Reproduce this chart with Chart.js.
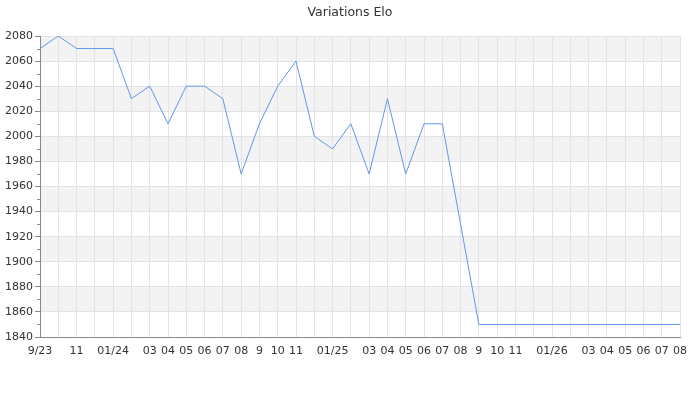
<!DOCTYPE html>
<html>
<head>
<meta charset="utf-8">
<script src="https://cdn.jsdelivr.net/npm/chart.js@4"></script>
<style>
html,body{margin:0;padding:0;background:#fff;}
#wrap{width:700px;height:400px;}
</style>
</head>
<body>
<div id="wrap"><canvas id="c" width="700" height="400"></canvas></div>
<script>
const months = ['2023-09','2023-10','2023-11','2023-12','2024-01','2024-02','2024-03','2024-04','2024-05','2024-06','2024-07','2024-08',
  '2024-09','2024-10','2024-11','2024-12','2025-01','2025-02','2025-03','2025-04','2025-05','2025-06','2025-07','2025-08',
  '2025-09','2025-10','2025-11','2025-12','2026-01','2026-02','2026-03','2026-04','2026-05','2026-06','2026-07','2026-08'];
const tickLabels = ['9/23','','11','','01/24','','03','04','05','06','07','08',
  '9','10','11','','01/25','','03','04','05','06','07','08',
  '9','10','11','','01/26','','03','04','05','06','07','08'];
const elo = [2070,2080,2070,2070,2070,2030,2040,2010,2040,2040,2030,1970,
  2010,2040,2060,2000,1990,2010,1970,2030,1970,2010,2010,1930,
  1850,1850,1850,1850,1850,1850,1850,1850,1850,1850,1850,1850];
const yMin = 1840, yMax = 2080, yStep = 20, yMinor = 10;

const bandsPlugin = {
  id: 'bands',
  beforeDraw(chart) {
    const {ctx, chartArea, scales} = chart;
    const y = scales.y;
    ctx.save();
    ctx.fillStyle = '#f3f3f3';
    let i = 0;
    for (let v = yMax; v > yMin; v -= yStep, i++) {
      if (i % 2 === 0) {
        const top = y.getPixelForValue(v), bot = y.getPixelForValue(v - yStep);
        ctx.fillRect(chartArea.left, top, chartArea.right - chartArea.left, bot - top);
      }
    }
    ctx.restore();
  },
  afterDraw(chart) {
    const {ctx, chartArea, scales} = chart;
    const y = scales.y;
    ctx.save();
    ctx.strokeStyle = '#888';
    ctx.lineWidth = 1;
    ctx.beginPath();
    for (let v = yMin + yMinor; v < yMax; v += yStep) {
      const p = Math.round(y.getPixelForValue(v)) + 0.5;
      ctx.moveTo(chartArea.left - 3, p);
      ctx.lineTo(chartArea.left, p);
    }
    ctx.stroke();
    ctx.restore();
  }
};

new Chart(document.getElementById('c'), {
  type: 'line',
  data: {
    labels: months,
    datasets: [{
      data: elo,
      borderColor: '#6495ed',
      borderWidth: 1,
      pointRadius: 0,
      tension: 0,
      fill: false
    }]
  },
  options: {
    responsive: false,
    animation: false,
    devicePixelRatio: 1,
    layout: {padding: 0},
    plugins: {
      legend: {display: false},
      tooltip: {enabled: false},
      title: {
        display: true,
        text: 'Variations Elo',
        color: '#333',
        font: {family: 'DejaVu Sans', size: 12.5, weight: 'normal'},
        padding: {top: 5, bottom: 16}
      }
    },
    scales: {
      x: {
        type: 'category',
        offset: false,
        afterFit(s) { s.height = 63; },
        grid: {color: '#e3e3e3', drawTicks: false},
        border: {color: '#888'},
        ticks: {
          autoSkip: false, maxRotation: 0, minRotation: 0, padding: 8,
          color: '#333', font: {family: 'DejaVu Sans', size: 11},
          callback: (v, i) => tickLabels[i]
        }
      },
      y: {
        min: yMin, max: yMax,
        afterFit(s) { s.width = 40; },
        grid: {color: '#e3e3e3', tickColor: '#888', tickLength: 5},
        border: {color: '#888'},
        ticks: {
          stepSize: yStep, padding: 2,
          color: '#333', font: {family: 'DejaVu Sans', size: 11},
          callback: (v) => String(v)
        }
      },
      yRight: {
        type: 'linear',
        position: 'right',
        min: yMin, max: yMax,
        afterFit(s) { s.width = 20; },
        grid: {display: false, drawTicks: false},
        border: {display: false},
        ticks: {display: false}
      }
    }
  },
  plugins: [bandsPlugin]
});
</script>
</body>
</html>
